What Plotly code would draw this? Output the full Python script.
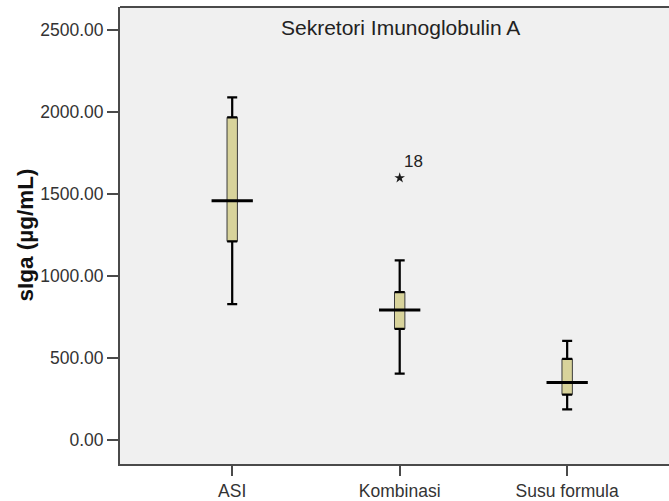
import plotly.graph_objects as go

categories = ["ASI", "Kombinasi", "Susu formula"]
lower_whisker = [829, 406, 188]
q1 = [1211, 678, 278]
median = [1459, 793, 351]
q3 = [1967, 902, 496]
upper_whisker = [2088, 1096, 605]

outlier_group = ["Kombinasi"]
outlier_value = [1598]
outlier_label = ["18"]

y_ticks = [0, 500, 1000, 1500, 2000, 2500]
y_tick_labels = ["%.2f" % v for v in y_ticks]

title_text = "Sekretori Imunoglobulin A"
y_title = "sIga (µg/mL)"

FONT = "Liberation Sans, Arial, sans-serif"
W, H = 669, 501
ML, MR, MT, MB = 120, 0, 7, 34
PW = W - ML - MR

fig = go.Figure()

# boxes
fig.add_trace(go.Box(
    x=categories, q1=q1, median=median, q3=q3,
    lowerfence=lower_whisker, upperfence=upper_whisker,
    boxpoints=False, width=0.062, whiskerwidth=0,
    fillcolor="#d8d39b", line=dict(color="#3a3a3a", width=1),
    hoverinfo="skip", showlegend=False,
))

# thick whiskers with caps
fig.add_trace(go.Scatter(
    x=categories, y=q3, mode="markers", marker=dict(size=0.1, color="rgba(0,0,0,0)"),
    error_y=dict(type="data", symmetric=False,
                 array=[u - q for u, q in zip(upper_whisker, q3)],
                 arrayminus=[0] * len(q3), color="#000000", thickness=2.2, width=5),
    showlegend=False, hoverinfo="skip",
))
fig.add_trace(go.Scatter(
    x=categories, y=q1, mode="markers", marker=dict(size=0.1, color="rgba(0,0,0,0)"),
    error_y=dict(type="data", symmetric=False,
                 array=[0] * len(q1),
                 arrayminus=[q - l for q, l in zip(q1, lower_whisker)],
                 color="#000000", thickness=2.2, width=5),
    showlegend=False, hoverinfo="skip",
))

# wide median lines
fig.add_trace(go.Scatter(
    x=categories, y=median, mode="markers",
    marker=dict(symbol="line-ew", size=29.5, line=dict(width=3, color="#000000")),
    showlegend=False, hoverinfo="skip",
))

# outlier
fig.add_trace(go.Scatter(
    x=outlier_group, y=outlier_value, mode="markers",
    marker=dict(symbol="star", size=8, color="#1a1a1a"),
    showlegend=False, hoverinfo="skip",
))
for g, v, t in zip(outlier_group, outlier_value, outlier_label):
    fig.add_annotation(x=g, y=v, text=t, showarrow=False, xshift=14, yshift=16,
                       font=dict(family=FONT, size=17, color="#222222"))

# title inside plot
fig.add_annotation(xref="paper", yref="paper", x=(400 - ML) / PW, y=(H - MB - 28) / (H - MT - MB),
                   text=title_text, showarrow=False, xanchor="center", yanchor="middle",
                   font=dict(family=FONT, size=21, color="#222222"))

# y axis title
fig.add_annotation(xref="paper", yref="paper", x=-(ML - 25) / PW, y=0.5,
                   text="<b>%s</b>" % y_title, textangle=-90, showarrow=False,
                   xanchor="center", yanchor="middle",
                   font=dict(family=FONT, size=22.5, color="#111111"))

# top frame line
fig.add_shape(type="line", xref="paper", yref="paper", x0=0, x1=1, y0=1, y1=1,
              line=dict(color="#4a4a4a", width=2))

fig.update_layout(
    width=W, height=H,
    margin=dict(l=ML, r=MR, t=MT, b=MB),
    paper_bgcolor="#ffffff", plot_bgcolor="#f0f0f0",
    font=dict(family=FONT, size=17, color="#333333"),
    xaxis=dict(type="category", range=[-0.67, 2.608], showgrid=False, zeroline=False,
               showline=True, linecolor="#4a4a4a", linewidth=2,
               ticks="outside", ticklen=10, tickwidth=2, tickcolor="#4a4a4a",
               tickfont=dict(family=FONT, size=17.5, color="#333333")),
    yaxis=dict(range=[-145, 2639], showgrid=False, zeroline=False,
               showline=True, linecolor="#4a4a4a", linewidth=2,
               tickvals=y_ticks, ticktext=y_tick_labels,
               ticks="outside", ticklen=11, tickwidth=2, tickcolor="#4a4a4a",
               tickfont=dict(family=FONT, size=17.5, color="#333333")),
)

fig.write_html("out.html", config={"displayModeBar": False},
               post_script="document.body.style.margin='0';document.body.style.overflow='hidden';")
